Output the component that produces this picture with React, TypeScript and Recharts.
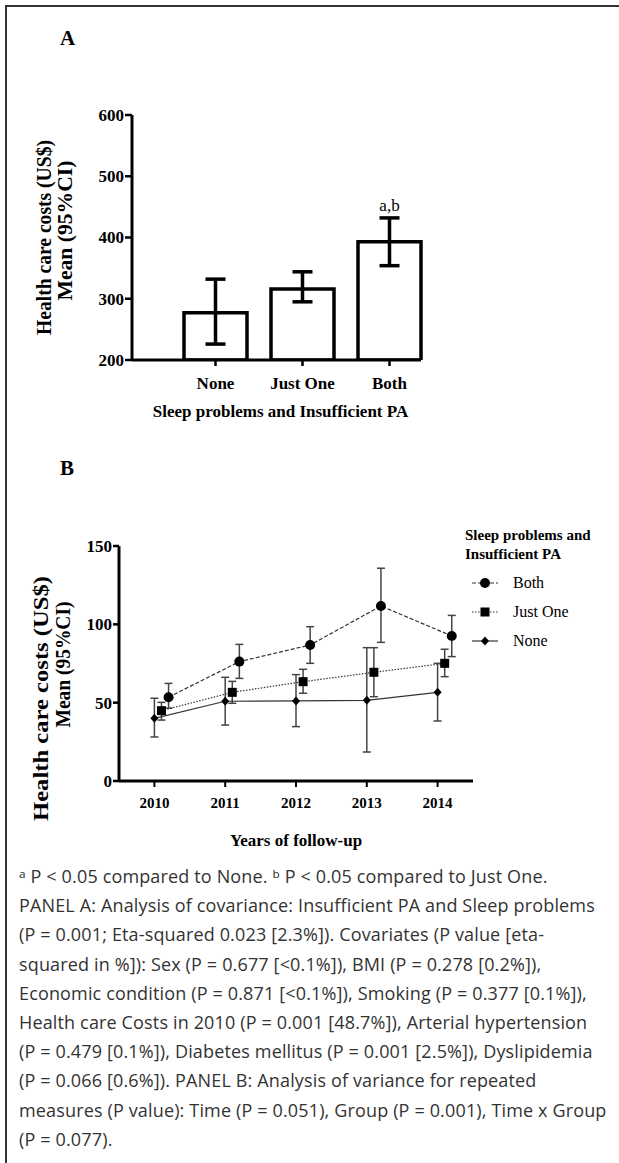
import React from 'react';
import {
  BarChart,
  Bar,
  XAxis,
  YAxis,
  ErrorBar,
  ReferenceDot,
  LineChart,
  Line,
  Legend
} from 'recharts';

// Panel A: mean health care costs by group (95% CI)
const groups = ['None', 'Just One', 'Both'];
const costMeans = [277, 316, 393];
const costLower = [226, 295, 354];
const costUpper = [332, 344, 432];
const costSig = ['', '', 'a,b'];
const costTicks = [200, 300, 400, 500, 600];

// Panel B: yearly costs per group (95% CI)
const years = [2010, 2011, 2012, 2013, 2014];
const bothMeans = [53.5, 76.2, 86.8, 111.7, 92.6];
const bothLower = [46.5, 65.5, 75.1, 88.5, 79.4];
const bothUpper = [62.3, 87.2, 98.5, 135.8, 105.7];
const justOneMeans = [44.9, 56.6, 63.4, 69.4, 75.1];
const justOneLower = [38.9, 49.6, 56.0, 53.8, 66.6];
const justOneUpper = [50.2, 63.6, 71.3, 85.1, 84.1];
const noneMeans = [40.0, 50.9, 51.1, 51.5, 56.6];
const noneLower = [28.1, 35.7, 34.7, 18.5, 38.3];
const noneUpper = [52.8, 66.2, 67.9, 85.1, 75.1];
const followTicks = [0, 50, 100, 150];

const captionLines = [
  '\u1d43 P < 0.05 compared to None. \u1d47 P < 0.05 compared to Just One.',
  'PANEL A: Analysis of covariance: Insufficient PA and Sleep problems',
  '(P = 0.001; Eta-squared 0.023 [2.3%]). Covariates (P value [eta-',
  'squared in %]): Sex (P = 0.677 [<0.1%]), BMI (P = 0.278 [0.2%]),',
  'Economic condition (P = 0.871 [<0.1%]), Smoking (P = 0.377 [0.1%]),',
  'Health care Costs in 2010 (P = 0.001 [48.7%]), Arterial hypertension',
  '(P = 0.479 [0.1%]), Diabetes mellitus (P = 0.001 [2.5%]), Dyslipidemia',
  '(P = 0.066 [0.6%]). PANEL B: Analysis of variance for repeated',
  'measures (P value): Time (P = 0.051), Group (P = 0.001), Time x Group',
  '(P = 0.077).'
];

const SERIF = '"Liberation Serif", "Times New Roman", serif';
const SANS = '"Open Sans", "Noto Sans", sans-serif';

const barData = groups.map((g, i) => ({
  group: g,
  mean: costMeans[i],
  err: [costMeans[i] - costLower[i], costUpper[i] - costMeans[i]],
  sig: costSig[i],
  upper: costUpper[i]
}));

const buildSeries = (means: number[], lower: number[], upper: number[], dodge: number) =>
  years.map((y, i) => ({
    year: y + dodge,
    mean: means[i],
    err: [means[i] - lower[i], upper[i] - means[i]]
  }));

const CircleDot = (p: any) =>
  p.cx == null ? null : <circle key={p.index} cx={p.cx} cy={p.cy} r={5} fill="#000" />;
const SquareDot = (p: any) =>
  p.cx == null ? null : <rect key={p.index} x={p.cx - 4.5} y={p.cy - 4.5} width={9} height={9} fill="#000" />;
const DiamondDot = (p: any) =>
  p.cx == null ? null : (
    <path key={p.index} d={`M${p.cx},${p.cy - 4.5}L${p.cx + 4},${p.cy}L${p.cx},${p.cy + 4.5}L${p.cx - 4},${p.cy}Z`} fill="#000" />
  );

const series = [
  { name: 'Both', data: buildSeries(bothMeans, bothLower, bothUpper, 0.2), dash: '4 2', Dot: CircleDot },
  { name: 'Just One', data: buildSeries(justOneMeans, justOneLower, justOneUpper, 0.1), dash: '1.5 1.5', Dot: SquareDot },
  { name: 'None', data: buildSeries(noneMeans, noneLower, noneUpper, 0), dash: undefined, Dot: DiamondDot }
];

// serif bold tick text; x ticks hang below the axis, y ticks are centred on the tick
const makeTick = (size: number, vertical: boolean) => (props: any) => (
  <text
    x={props.x}
    y={props.y}
    dy={vertical ? '0.35em' : '0.71em'}
    textAnchor={props.textAnchor}
    fontFamily={SERIF}
    fontWeight={700}
    fontSize={size}
    fill="#000"
  >
    {props.payload.value}
  </text>
);

// two-line rotated axis title, stretched to the lengths seen in the figure
const makeYTitle = (x1: number, x2: number, len1: number, len2: number, off1: number, off2: number) => (props: any) => {
  const vb = props.viewBox;
  const cy = vb.y + vb.height / 2;
  const style = { fontFamily: SERIF, fontWeight: 700, fontSize: 20, fill: '#000' };
  const y1 = cy + off1;
  const y2 = cy + off2;
  return (
    <g>
      <text
        x={x1}
        y={y1}
        transform={`rotate(-90, ${x1}, ${y1})`}
        textAnchor="middle"
        dominantBaseline="central"
        textLength={len1}
        lengthAdjust="spacingAndGlyphs"
        style={style}
      >
        Health care costs (US$)
      </text>
      <text
        x={x2}
        y={y2}
        transform={`rotate(-90, ${x2}, ${y2})`}
        textAnchor="middle"
        dominantBaseline="central"
        textLength={len2}
        lengthAdjust="spacingAndGlyphs"
        style={style}
      >
        Mean (95%CI)
      </text>
    </g>
  );
};

const makeXTitle = (text: string, dx: number, dy: number, size: number) => (props: any) => {
  const vb = props.viewBox;
  return (
    <text
      x={vb.x + vb.width / 2 + dx}
      y={vb.y + dy}
      textAnchor="middle"
      style={{ fontFamily: SERIF, fontWeight: 700, fontSize: size, fill: '#000' }}
    >
      {text}
    </text>
  );
};

const LegendBox = () => (
  <div style={{ fontFamily: SERIF, color: '#000' }}>
    <div style={{ fontWeight: 700, fontSize: 15, lineHeight: '19px' }}>
      Sleep problems and
      <br />
      Insufficient PA
    </div>
    {series.map((s, i) => (
      <div key={s.name} style={{ display: 'flex', alignItems: 'center', height: 29, marginTop: i === 0 ? 4 : 0 }}>
        <svg width={30} height={14} style={{ marginLeft: 6 }}>
          <line x1={1} y1={7} x2={27} y2={7} stroke="#333" strokeWidth={1.2} strokeDasharray={s.dash} />
          <s.Dot cx={14} cy={7} />
        </svg>
        <span style={{ fontSize: 16, marginLeft: 12 }}>{s.name}</span>
      </div>
    ))}
  </div>
);

export default function App() {
  return (
    <div style={{ position: 'absolute', left: 0, top: 0, width: 619, height: 1163, background: '#fff', overflow: 'hidden' }}>
      <div
        style={{
          position: 'absolute',
          left: 5,
          top: 5,
          width: 640,
          height: 1200,
          borderLeft: '2px solid #333',
          borderTop: '2px solid #333'
        }}
      />
      <div style={{ position: 'absolute', left: 60, top: 26, fontFamily: SERIF, fontWeight: 700, fontSize: 21 }}>A</div>
      <div style={{ position: 'absolute', left: 60, top: 456, fontFamily: SERIF, fontWeight: 700, fontSize: 21 }}>B</div>

      <div style={{ position: 'absolute', left: 0, top: 0 }}>
        <BarChart width={619} height={440} data={barData} margin={{ top: 115, right: 198, bottom: 20, left: 20 }}>
          <XAxis
            dataKey="group"
            height={60}
            padding={{ left: 40, right: -12 }}
            axisLine={{ stroke: '#000', strokeWidth: 3 }}
            tickLine={{ stroke: '#000', strokeWidth: 2.5 }}
            tickSize={6}
            tickMargin={11}
            tick={makeTick(17, false)}
            label={{ content: makeXTitle('Sleep problems and Insufficient PA', 4, 57, 17) }}
          />
          <YAxis
            width={112}
            domain={[200, 600]}
            ticks={costTicks}
            allowDataOverflow
            axisLine={{ stroke: '#000', strokeWidth: 3 }}
            tickLine={{ stroke: '#000', strokeWidth: 2.5 }}
            tickSize={7}
            tickMargin={1}
            tick={makeTick(17, true)}
            label={{ content: makeYTitle(44, 65, 195, 140, 0, -7) }}
          />
          <Bar dataKey="mean" fill="#fff" stroke="#000" strokeWidth={3.5} barSize={63} isAnimationActive={false}>
            <ErrorBar dataKey="err" width={10} stroke="#000" strokeWidth={3.5} />
          </Bar>
          <ReferenceDot
            x={barData[2].group}
            y={barData[2].upper}
            r={0}
            fill="none"
            stroke="none"
            label={{ value: barData[2].sig, position: 'top', offset: 7, fontFamily: SERIF, fontSize: 17, fill: '#000' }}
          />
        </BarChart>
      </div>

      <div style={{ position: 'absolute', left: 0, top: 440 }}>
        <LineChart width={619} height={420} margin={{ top: 106, right: 146, bottom: 9, left: 20 }}>
          <XAxis
            dataKey="year"
            type="number"
            domain={[2009.5, 2014.5]}
            ticks={years}
            allowDataOverflow
            height={70}
            axisLine={{ stroke: '#000', strokeWidth: 3 }}
            tickLine={{ stroke: '#000', strokeWidth: 2 }}
            tickSize={6}
            tickMargin={10}
            tick={makeTick(15, false)}
            label={{ content: makeXTitle('Years of follow-up', 0, 65, 17) }}
          />
          <YAxis
            width={99}
            domain={[0, 150]}
            ticks={followTicks}
            allowDataOverflow
            axisLine={{ stroke: '#000', strokeWidth: 3 }}
            tickLine={{ stroke: '#000', strokeWidth: 2.5 }}
            tickSize={6}
            tickMargin={1}
            tick={makeTick(17, true)}
            label={{ content: makeYTitle(41, 63, 245, 126, 35, 1) }}
          />
          <Legend
            layout="vertical"
            align="center"
            verticalAlign="middle"
            content={() => <LegendBox />}
            wrapperStyle={{ position: 'absolute', left: 465, top: 86, width: 150 }}
          />
          {series.map((s) => (
            <Line
              key={s.name}
              name={s.name}
              data={s.data}
              dataKey="mean"
              stroke="#333"
              strokeWidth={1.2}
              strokeDasharray={s.dash}
              dot={s.Dot}
              activeDot={false}
              isAnimationActive={false}
            >
              <ErrorBar dataKey="err" width={4} stroke="#444" strokeWidth={1.5} />
            </Line>
          ))}
        </LineChart>
      </div>

      {captionLines.map((line, i) => (
        <div
          key={i}
          style={{
            position: 'absolute',
            left: 19,
            top: 863 + i * 29.2,
            fontFamily: SANS,
            fontSize: 18,
            letterSpacing: 0.15,
            color: '#333',
            whiteSpace: 'nowrap',
            lineHeight: '26px'
          }}
        >
          {line}
        </div>
      ))}
    </div>
  );
}
